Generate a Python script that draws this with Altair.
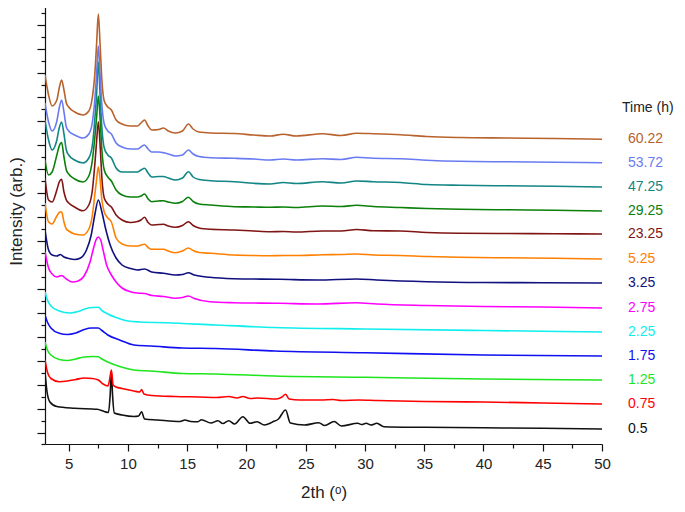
import altair as alt
import pandas as pd

# ---------------- data ----------------
TIMES = ["0.5", "0.75", "1.25", "1.75", "2.25", "2.75", "3.25",
         "5.25", "23.25", "29.25", "47.25", "53.72", "60.22"]
COLORS = ["#111111", "#FF0000", "#1EE61E", "#1010F0", "#11EEEE", "#FF00FF",
          "#10107F", "#FF8000", "#801515", "#0B800B", "#138585", "#6A7BF2",
          "#B8622C"]

# common 2theta grid of the six upper patterns
X_UP = [3.0, 3.3, 3.6, 4.0, 4.2, 4.4, 4.6, 4.8, 5.0, 5.5,
        6.2, 6.7, 7.0, 7.2, 7.35, 7.5, 7.65, 7.8, 8.0, 8.3,
        8.6, 9.0, 9.5, 10.2, 10.8, 11.1, 11.4, 11.7, 12.0, 12.6,
        13.0, 13.4, 14.0, 14.6, 15.1, 15.5, 16.0, 17.0, 19.0, 20.6,
        22.0, 23.1, 24.2, 26.4, 28.0, 29.3, 30.7, 33.0, 35.2, 38.0,
        42.0, 46.0, 50.0]

I_60_22 = [369, 349, 338, 344, 356, 364, 354, 341, 337, 332,
           329, 333, 347, 369, 399, 430, 399, 364, 343, 337,
           334, 324, 320, 318, 318, 321, 324, 318, 314, 314.5,
           316, 313, 311, 313, 320, 315, 312, 311, 310.5, 309,
           308, 309.7, 308, 310.3, 308.5, 310.7, 310.3, 309.3, 307.5, 306.5,
           306, 305.5, 304.7]
I_53_72 = [341, 322, 313, 323, 336, 344, 332, 317, 313, 309,
           306, 310, 322, 344, 369, 398, 369, 339, 320, 313,
           310, 301, 297, 295, 295, 297, 299, 295, 292, 292,
           291.3, 290, 288, 289, 294, 290, 287.5, 286.3, 285.7, 285,
           284, 285, 284, 285.3, 284.5, 286.7, 285.7, 285.3, 283.8, 282.7,
           282.2, 281.8, 281.3]
I_47_25 = [324, 304, 294, 304, 316, 322, 310, 294, 289, 284,
           281, 286, 299, 324, 349, 382, 349, 316, 296, 289,
           286, 276, 272, 272, 272, 274, 275.7, 271, 267, 267.5,
           267.5, 266, 264, 266, 272.3, 267, 264.5, 263.3, 262.3, 260.7,
           260, 261.5, 260.5, 262.3, 261, 263, 262.3, 261.5, 259.5, 258.7,
           258.2, 257.7, 257]
I_29_25 = [284, 269, 272, 289, 298, 301.5, 287, 274, 270, 265,
           262, 268, 284, 306, 326, 348, 326, 294, 274, 267,
           263, 254, 249, 247, 247, 248, 250, 245, 242.3, 243,
           243.3, 242, 240.7, 242.5, 246.7, 242.5, 240, 239, 237.3, 237,
           236.7, 237, 236.5, 238, 237.5, 238.7, 237.5, 236.5, 235.5, 234.7,
           234.2, 233.7, 233]
I_23_25 = [266, 244, 242, 254, 262, 264.7, 252, 244, 241, 237,
           233.3, 239, 254, 279, 302, 322.3, 299, 266, 246, 240,
           237, 229, 224, 221.5, 222.5, 224, 226.7, 221.5, 219, 219.5,
           219.7, 218, 216.7, 218.5, 222.3, 218.5, 216, 214.7, 214, 213,
           212.3, 212.5, 212, 213, 213, 214.5, 213.3, 213, 211.5, 210.7,
           210.5, 210.2, 210]
I_5_25 = [241, 222, 220, 228, 231.5, 232.3, 222, 215, 213, 210,
          209, 215, 229, 249, 264, 277.3, 264, 244, 232, 226,
          222, 206, 200, 198, 198, 199, 199.7, 196.5, 194.7, 194.7,
          194.7, 193, 191.3, 193, 196, 193.5, 191.5, 190.7, 189, 188.5,
          188.3, 188.5, 188.5, 189.3, 189.5, 190, 189, 188.5, 187.5, 186.7,
          186.2, 185.7, 185]

X_3_25 = [3.0, 3.3, 3.6, 4.0, 4.3, 4.6, 5.0, 5.5, 6.0, 6.5, 6.9, 7.2, 7.5,
          7.8, 8.1, 8.5, 9.0, 9.5, 10.2, 10.8, 11.4, 12.0, 13.0, 14.0, 14.6,
          15.1, 15.6, 16.9, 18.9, 22.8, 26.0, 29.3, 31.0, 35.2, 40.0, 45.0, 50.0]
I_3_25 = [214, 194, 189, 188, 189.5, 187, 185.5, 184.5, 186, 194, 209, 229, 244,
          232, 216, 199, 186, 179, 175.5, 174, 175, 172, 170.7, 169, 169.5,
          171.3, 169, 166.7, 165.3, 164.7, 164, 165, 164, 162.3, 161.5, 161.3, 161]

X_2_75 = [3.0, 3.3, 3.6, 4.0, 4.4, 4.8, 5.3, 5.8, 6.3, 6.8, 7.1, 7.3, 7.5,
          7.7, 7.9, 8.2, 8.6, 9.0, 9.5, 10.2, 10.8, 11.4, 12.0, 13.0, 14.0,
          14.6, 15.1, 15.6, 16.9, 18.9, 22.8, 26.0, 29.3, 31.0, 35.2, 40.0,
          45.0, 50.0]
I_2_75 = [192.3, 176, 170, 167, 168.5, 165, 162, 163, 168, 182, 196, 204, 207,
          204, 194, 179, 169, 162, 156, 152.3, 151, 150.5, 148.5, 147.5, 145.7,
          146.5, 148, 145.5, 142.3, 141.3, 140.7, 140, 141.3, 140, 138.5, 137.5,
          137, 136]

X_2_25 = [3.0, 3.2, 3.5, 4.2, 5.1, 5.8, 6.5, 7.0, 7.5, 7.8, 8.3, 9.0, 10.0,
          11.0, 13.2, 17.4, 22.4, 30.0, 40.0, 50.0]
I_2_25 = [152, 144, 138, 133, 131, 132.5, 135.5, 136.5, 136.7, 133.5, 130,
          126.5, 123, 122, 121.3, 119, 116.5, 115, 113.5, 112]

X_1_75 = [3.0, 3.2, 3.5, 4.2, 4.9, 5.6, 6.3, 6.9, 7.5, 7.8, 8.3, 9.3, 10.5,
          12.0, 14.6, 17.4, 22.4, 30.0, 40.0, 50.0]
I_1_75 = [129, 122, 116, 110.7, 109.5, 111, 114.5, 116, 116, 113.5, 109, 104,
          99, 98, 96, 95.5, 93, 91.3, 89, 88]

X_1_25 = [3.0, 3.2, 3.5, 4.2, 4.9, 5.6, 6.3, 7.0, 7.5, 7.8, 8.3, 9.3, 10.5,
          12.0, 14.6, 17.4, 22.4, 30.0, 40.0, 50.0]
I_1_25 = [102, 94, 89, 84.5, 83.5, 85, 87, 87.5, 87.3, 85, 82, 77.5, 74, 73,
          70.5, 70, 68, 66.7, 65, 64]

X_0_75 = [3.0, 3.2, 3.5, 4.2, 4.9, 5.6, 6.3, 7.0, 7.5, 7.9, 8.3, 8.45, 8.6,
          8.75, 9.0, 9.5, 10.5, 11.0, 11.15, 11.35, 12.0, 14.0, 16.0, 17.5,
          18.5, 19.2, 19.7, 20.3, 21.0, 22.5, 23.0, 23.3, 23.6, 24.5, 26.3,
          27.3, 28.0, 29.5, 31.0, 35.0, 40.0, 45.0, 50.0]
I_0_75 = [84, 72, 65.5, 62.3, 63, 64.5, 66, 65.5, 64, 60, 58, 64, 74,
          59, 57, 55.5, 53, 52, 54.5, 50, 48.5, 47.5, 47, 46.5,
          47.5, 46, 47.5, 45.5, 46, 45, 47, 49.7, 45, 44, 44,
          44.5, 43.5, 44, 43.5, 42.5, 42, 41, 40]

X_0_5 = [3.0, 3.15, 3.4, 4.0, 5.5, 7.4, 8.0, 8.35, 8.5, 8.6, 8.7, 8.85, 9.5,
         10.5, 10.9, 11.15, 11.4, 12.5, 14.4, 14.8, 15.3, 15.9, 16.2, 17.0,
         17.6, 18.0, 18.5, 19.0, 19.7, 20.3, 20.9, 21.5, 22.2, 22.7, 23.3,
         23.7, 24.9, 26.1, 26.6, 27.4, 28.0, 29.4, 29.7, 30.1, 30.5, 31.0,
         31.6, 35.0, 40.0, 45.0, 50.0]
I_0_5 = [72, 54, 42.3, 37.5, 35.7, 34.7, 32.5, 31.5, 49, 72.5, 49, 31, 29,
         27.5, 28, 32.3, 25, 24, 22.5, 24, 22.5, 22.3, 24.2, 21,
         23.3, 20.5, 23.3, 20, 27.3, 20.7, 22.3, 19, 22, 25, 34,
         21, 19, 21.3, 18.5, 22.5, 18, 20.7, 19.5, 20.7, 19, 20.7,
         17.3, 16.7, 16.2, 15.7, 15]

SERIES = {
    "0.5": (X_0_5, I_0_5),
    "0.75": (X_0_75, I_0_75),
    "1.25": (X_1_25, I_1_25),
    "1.75": (X_1_75, I_1_75),
    "2.25": (X_2_25, I_2_25),
    "2.75": (X_2_75, I_2_75),
    "3.25": (X_3_25, I_3_25),
    "5.25": (X_UP, I_5_25),
    "23.25": (X_UP, I_23_25),
    "29.25": (X_UP, I_29_25),
    "47.25": (X_UP, I_47_25),
    "53.72": (X_UP, I_53_72),
    "60.22": (X_UP, I_60_22),
}

X_TICKS = [5, 7.5, 10, 12.5, 15, 17.5, 20, 22.5, 25, 27.5, 30, 32.5, 35,
           37.5, 40, 42.5, 45, 47.5, 50]
Y_MAJOR = [11, 35, 59, 83, 107, 131, 155, 179, 203, 227, 251, 275, 299, 323,
           347, 371, 395, 419, 443]
Y_MINOR = [0, 23, 47, 71, 95, 119, 143, 167, 191, 215, 239, 263, 287, 311,
           335, 359, 383, 407, 431]
Y_TICKS = sorted(Y_MAJOR + Y_MINOR)

# ---------------- tables ----------------
rows = []
for k, t in enumerate(TIMES):
    xs, ys = SERIES[t]
    for x, y in zip(xs, ys):
        rows.append({"time": t, "rank": k, "two_theta": x, "intensity": y})
df = pd.DataFrame(rows)

lab = pd.DataFrame({
    "time": TIMES,
    "two_theta": [SERIES[t][0][-1] for t in TIMES],
    "intensity": [SERIES[t][1][-1] for t in TIMES],
})

FONT = "Liberation Sans"

xscale = alt.Scale(domain=[3, 50], nice=False, zero=False)
yscale = alt.Scale(domain=[0, 443], nice=False, zero=False)
cscale = alt.Scale(domain=TIMES, range=COLORS)

major_test = "indexof([" + ",".join(str(v) for v in Y_MAJOR) + "], datum.value) >= 0"

x_axis = alt.Axis(
    values=X_TICKS, tickCount=len(X_TICKS),
    labelExpr="datum.value % 5 == 0 ? '' + datum.value : ''",
    tickSize={"condition": {"test": "datum.value % 5 == 0", "value": 7}, "value": 4},
    title="2th (ᵒ)",
    grid=False, labelFlush=False, labelOverlap=False,
    labelFont=FONT, labelFontSize=15, labelColor="#222222", labelPadding=5,
    titleFont=FONT, titleFontSize=17, titleFontWeight="normal",
    titleColor="#222222", titlePadding=13,
    domainColor="#111111", tickColor="#111111", domainWidth=1.2, tickWidth=1.2,
)
y_axis = alt.Axis(
    values=Y_TICKS, labels=False, tickCount=len(Y_TICKS),
    tickSize={"condition": {"test": major_test, "value": 8}, "value": 4},
    title="Intensity (arb.)", grid=False,
    titleFont=FONT, titleFontSize=17, titleFontWeight="normal", titleColor="#222222",
    titleX=-24, titleY=210, titleBaseline="alphabetic",
    domainColor="#111111", tickColor="#111111", domainWidth=1.2, tickWidth=1.2,
)

lines = alt.Chart(df).mark_line(strokeWidth=1.6, clip=True, interpolate="monotone").encode(
    x=alt.X("two_theta:Q", scale=xscale, axis=x_axis),
    y=alt.Y("intensity:Q", scale=yscale, axis=y_axis),
    color=alt.Color("time:N", scale=cscale, legend=None),
    detail="rank:O",
)

labels = alt.Chart(lab).mark_text(
    align="left", baseline="middle", dx=26, font=FONT, fontSize=14
).encode(
    x=alt.X("two_theta:Q", scale=xscale),
    y=alt.Y("intensity:Q", scale=yscale),
    text="time:N",
    color=alt.Color("time:N", scale=cscale, legend=None),
)

header = alt.Chart(pd.DataFrame({"t": ["Time (h)"]})).mark_text(
    align="left", baseline="middle", dx=20, font=FONT, fontSize=14, color="#222222"
).encode(
    x=alt.datum(50, scale=xscale),
    y=alt.value(107),
    text="t:N",
)

chart = alt.layer(lines, labels, header).properties(
    width=557, height=443,
    autosize=alt.AutoSizeParams(type="none"),
    padding={"top": -7, "left": 37, "right": 75, "bottom": 60},
).configure_view(stroke=None)

chart.save("out.html", embed_options={"renderer": "svg", "actions": False})
